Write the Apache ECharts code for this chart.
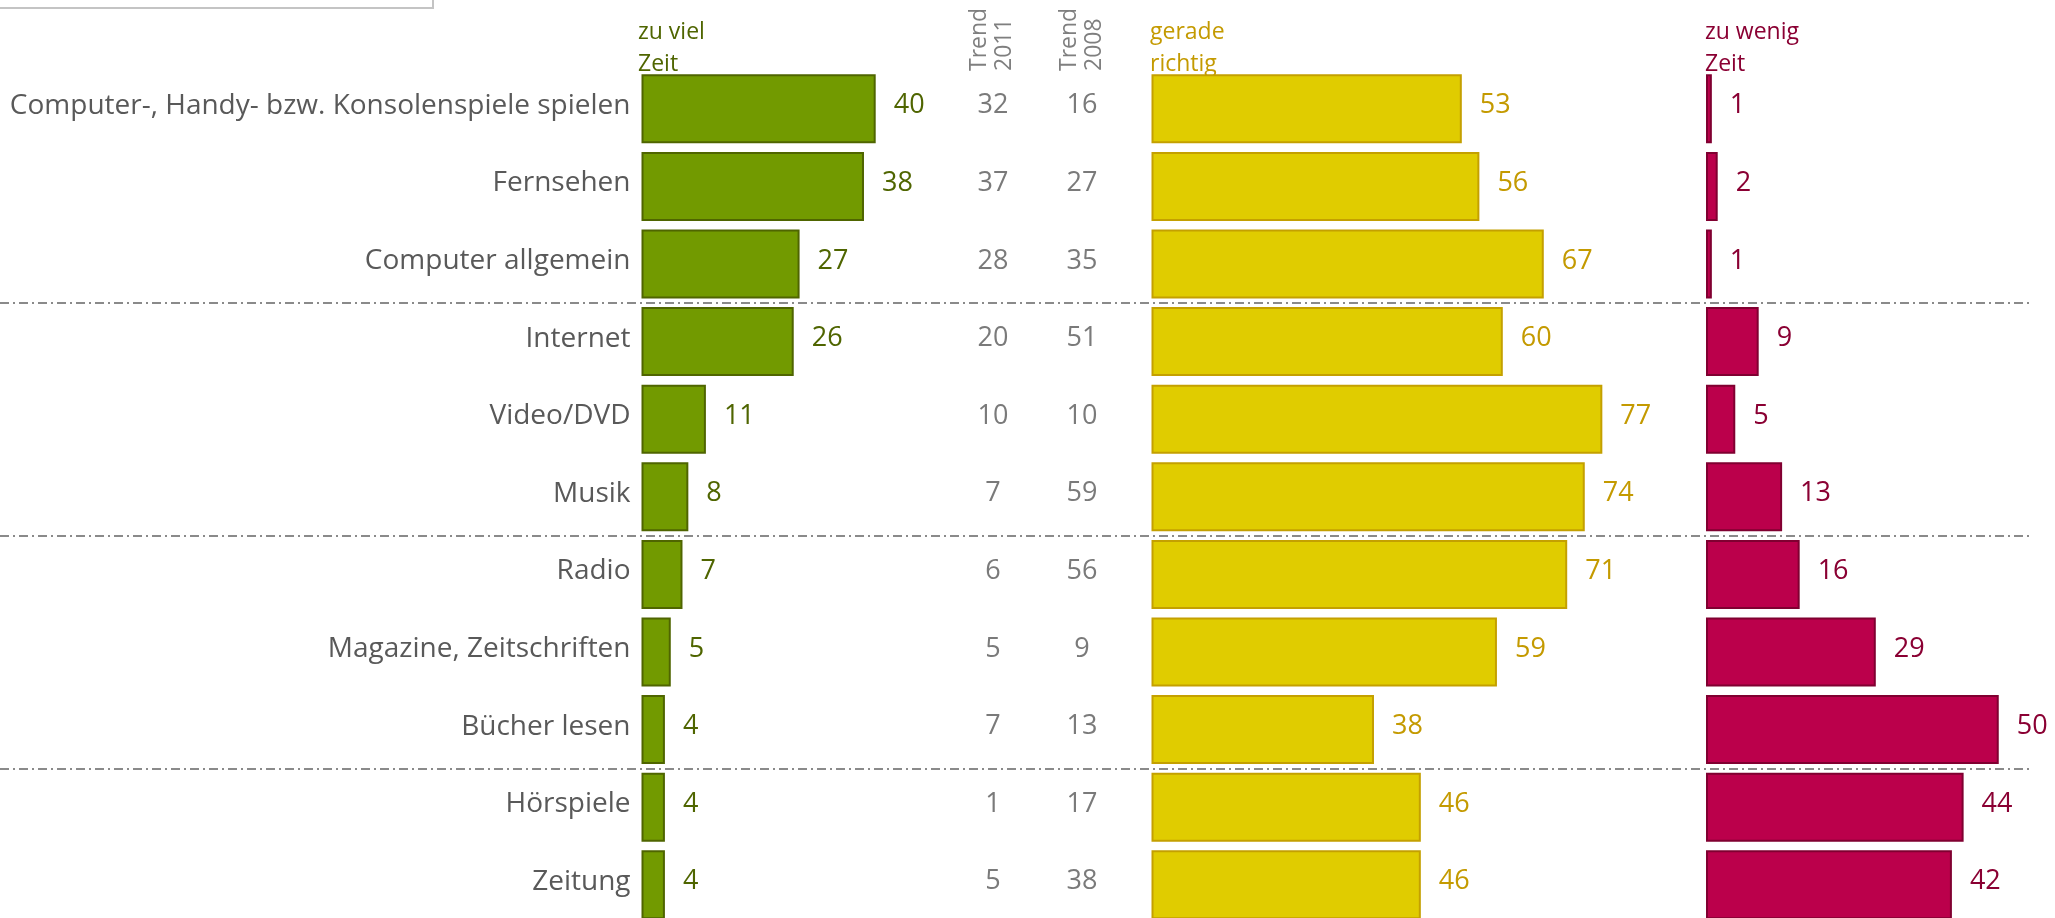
<!DOCTYPE html>
<html>
<head>
<meta charset="utf-8">
<script src="https://cdn.jsdelivr.net/npm/echarts@6/dist/echarts.min.js"></script>
<style>
  html, body { margin: 0; padding: 0; background: #fff; }
  #chart { width: 2055px; height: 918px; }
</style>
</head>
<body>
<div id="chart"></div>
<script>
// Mediennutzung: zu viel / gerade richtig / zu wenig Zeit (%)
const categories = [
  'Computer-, Handy- bzw. Konsolenspiele spielen',
  'Fernsehen',
  'Computer allgemein',
  'Internet',
  'Video/DVD',
  'Musik',
  'Radio',
  'Magazine, Zeitschriften',
  'Bücher lesen',
  'Hörspiele',
  'Zeitung',
]
const zuViel        = [40, 38, 27, 26, 11, 8, 7, 5, 4, 4, 4]
const trend2011     = [32, 37, 28, 20, 10, 7, 6, 5, 7, 1, 5]
const trend2008     = [16, 27, 35, 51, 10, 59, 56, 9, 13, 17, 38]
const geradeRichtig = [53, 56, 67, 60, 77, 74, 71, 59, 38, 46, 46]
const zuWenig       = [1, 2, 1, 9, 5, 13, 16, 29, 50, 44, 42]
const trendColumns  = ['Trend\n2011', 'Trend\n2008']
// Trennlinien nach diesen Zeilen (Gruppengrenzen)
const groupBreaks   = [3, 6, 9]

const FONT = '"Open Sans"'
const GRAY = '#595959'
const PX_PER_UNIT = 5.855
const TOP = 70
const ROW = 77.6
const PLOT_H = ROW * categories.length
const LIFT = -3   // Texte sitzen etwas über der Balkenmitte

const chart = echarts.init(document.getElementById('chart'))

function catAxis(gridIndex, showLabels, extra = {}) {
  return Object.assign({
    type: 'category',
    gridIndex,
    data: categories,
    inverse: true,
    axisLine: { show: false },
    axisTick: { show: false },
    axisLabel: showLabels
      ? {
          show: true, margin: 11,
          formatter: v => '{c|' + v + '}',
          rich: { c: { color: GRAY, fontFamily: FONT, fontSize: 28, padding: [0, 0, -2 * LIFT, 0] } },
        }
      : { show: false },
    splitLine: { show: false },
  }, extra)
}

function valAxis(gridIndex, max) {
  return {
    type: 'value', gridIndex, min: 0, max,
    show: false,
    splitLine: { show: false },
  }
}

function barSeries(name, idx, data, fill, border, labelColor) {
  return {
    name,
    type: 'bar',
    xAxisIndex: idx,
    yAxisIndex: idx,
    data,
    barWidth: 69,
    itemStyle: { color: fill, borderColor: border, borderWidth: 2 },
    label: {
      show: true,
      position: 'right',
      distance: 18,
      offset: [0, LIFT],
      color: labelColor,
      fontFamily: FONT,
      fontSize: 27,
    },
    silent: true,
    animation: false,
  }
}

function trendSeries(col, values) {
  return {
    type: 'scatter',
    xAxisIndex: 4,
    yAxisIndex: 4,
    symbolSize: 1,
    itemStyle: { color: 'rgba(0,0,0,0)' },
    data: values.map((v, i) => [col, i, v]),
    label: {
      show: true,
      position: 'inside',
      offset: [0, LIFT],
      color: GRAY,
      fontFamily: FONT,
      fontSize: 27,
      formatter: p => p.value[2],
    },
    silent: true,
    animation: false,
  }
}

const headerStyle = (color, text) => ({
  text, fill: color, font: `23px ${FONT}`, lineHeight: 32,
  textAlign: 'left', textVerticalAlign: 'middle',
})

const trendHeaderStyle = (text) => ({
  text, fill: '#7f7f7f', font: `23px ${FONT}`, lineHeight: 25,
  textAlign: 'left', textVerticalAlign: 'middle',
})

const gridBase = { top: TOP, height: PLOT_H, outerBoundsMode: 'none' }

chart.setOption({
  animation: false,
  grid: [
    // 0 Rahmen für Trennlinien
    Object.assign({ left: 0, width: 2032 }, gridBase),
    // 1 zu viel Zeit
    Object.assign({ left: 641.5, width: PX_PER_UNIT * 80 }, gridBase),
    // 2 gerade richtig
    Object.assign({ left: 1151.5, width: PX_PER_UNIT * 80 }, gridBase),
    // 3 zu wenig Zeit
    Object.assign({ left: 1706, width: PX_PER_UNIT * 60 }, gridBase),
    // 4 Trend-Spalten
    Object.assign({ left: 948.5, width: 178 }, gridBase),
  ],
  xAxis: [
    valAxis(0, 1),
    valAxis(1, 80),
    valAxis(2, 80),
    valAxis(3, 60),
    { type: 'category', gridIndex: 4, data: trendColumns, show: false },
  ],
  yAxis: [
    catAxis(0, false, {
      splitLine: {
        show: true,
        interval: (i) => groupBreaks.includes(i),
        lineStyle: { color: '#8a8a8a', width: 2, type: [9, 4, 2, 4] },
      },
    }),
    catAxis(1, true),
    catAxis(2, false),
    catAxis(3, false),
    catAxis(4, false),
  ],
  series: [
    barSeries('zu viel Zeit', 1, zuViel, '#729a00', '#4f6500', '#4f6500'),
    barSeries('gerade richtig', 2, geradeRichtig, '#e0cc00', '#c4a000', '#c49a00'),
    barSeries('zu wenig Zeit', 3, zuWenig, '#bb004b', '#800031', '#8a0033'),
    trendSeries(0, trend2011),
    trendSeries(1, trend2008),
  ],
  graphic: [
    {
      type: 'rect',
      shape: { x: -4, y: -6, width: 437, height: 14 },
      style: { fill: '#fff', stroke: '#c4c4c4', lineWidth: 2 },
      silent: true,
    },
    { type: 'text', x: 638, y: 48, style: headerStyle('#4f6500', 'zu viel\nZeit'), silent: true },
    { type: 'text', x: 1150, y: 48, style: headerStyle('#c49a00', 'gerade\nrichtig'), silent: true },
    { type: 'text', x: 1705, y: 48, style: headerStyle('#8a0033', 'zu wenig\nZeit'), silent: true },
    { type: 'text', x: 991.5, y: 71, rotation: Math.PI / 2, style: trendHeaderStyle(trendColumns[0]), silent: true },
    { type: 'text', x: 1081.5, y: 71, rotation: Math.PI / 2, style: trendHeaderStyle(trendColumns[1]), silent: true },
  ],
})
</script>
</body>
</html>
